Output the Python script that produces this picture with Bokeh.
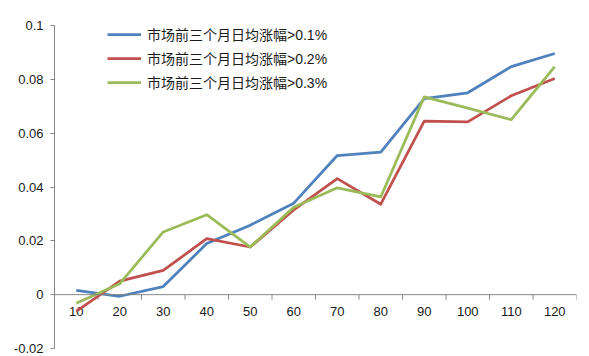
import math
from bokeh.plotting import figure
from bokeh.models import (Range1d, FixedTicker, CustomJSTickFormatter, Span,
                          Legend, LegendItem)
from bokeh.core.properties import value
from bokeh.embed import file_html
from bokeh.resources import INLINE

# ---- data ----
categories = [10, 20, 30, 40, 50, 60, 70, 80, 90, 100, 110, 120]
tick_labels = [str(c) for c in categories]
series_names = ["市场前三个月日均涨幅>0.1%", "市场前三个月日均涨幅>0.2%", "市场前三个月日均涨幅>0.3%"]
s_01 = [0.0016, -0.0006, 0.0030, 0.0190, 0.0258, 0.0340, 0.0517, 0.0530, 0.0728, 0.0750, 0.0847, 0.0896]
s_02 = [-0.0062, 0.0050, 0.0090, 0.0208, 0.0177, 0.0315, 0.0431, 0.0336, 0.0645, 0.0642, 0.0739, 0.0803]
s_03 = [-0.0032, 0.0041, 0.0233, 0.0297, 0.0177, 0.0325, 0.0397, 0.0363, 0.0735, 0.0693, 0.0650, 0.0847]
y_ticks = [-0.02, 0.0, 0.02, 0.04, 0.06, 0.08, 0.1]
colors = ["#4F81BD", "#C0504D", "#9BBB59"]

step = categories[1] - categories[0]
half = step / 2
boundaries = [c + half for c in categories]

p = figure(frame_width=522, frame_height=323, output_backend="svg", toolbar_location=None,
           x_range=Range1d(categories[0] - half, categories[-1] + half),
           y_range=Range1d(y_ticks[0], y_ticks[-1]),
           min_border_left=54, min_border_right=9, min_border_top=25, min_border_bottom=8)
p.outline_line_color = None
p.xgrid.visible = False
p.ygrid.visible = False
p.xaxis.visible = False
p.background_fill_color = "white"

ax = p.yaxis[0]
ax.ticker = FixedTicker(ticks=y_ticks, minor_ticks=[])
ax.formatter = CustomJSTickFormatter(code="return String(Math.round(tick*100)/100);")
ax.axis_line_color = "#868686"
ax.major_tick_line_color = "#868686"
ax.major_tick_in = 0
ax.major_tick_out = 4
ax.minor_tick_line_color = None
ax.major_label_standoff = 7
ax.major_label_text_font = "Liberation Sans"
ax.major_label_text_font_size = "13px"
ax.major_label_text_color = "#1a1a1a"

# x axis drawn at y = 0
p.add_layout(Span(location=0, dimension="width", line_color="#868686", line_width=1))
p.ray(x=boundaries, y=[0] * len(boundaries), length=5, length_units="screen",
      angle=-math.pi / 2, line_color="#868686", line_width=1)
p.text(x=categories, y=[0] * len(categories), text=tick_labels, y_offset=17,
       text_align="center", text_baseline="middle", text_font=value("Liberation Sans"),
       text_font_size="13px", text_color="#1a1a1a")

renderers = []
for ys, c in zip([s_01, s_02, s_03], colors):
    r = p.line(categories, ys, line_color=c, line_width=2.75, line_join="round")
    renderers.append(r)

legend = Legend(items=[LegendItem(label=n, renderers=[r]) for n, r in zip(series_names, renderers)],
                location=(53, 256), orientation="vertical",
                glyph_width=34, glyph_height=20, label_height=20, spacing=4,
                label_standoff=6, padding=0, margin=0,
                border_line_color=None, background_fill_alpha=0,
                label_text_font="'Liberation Sans', 'Noto Sans CJK SC'",
                label_text_font_size="14px", label_text_color="#1a1a1a")
p.add_layout(legend)

open("out.html", "w").write(file_html(p, INLINE))
